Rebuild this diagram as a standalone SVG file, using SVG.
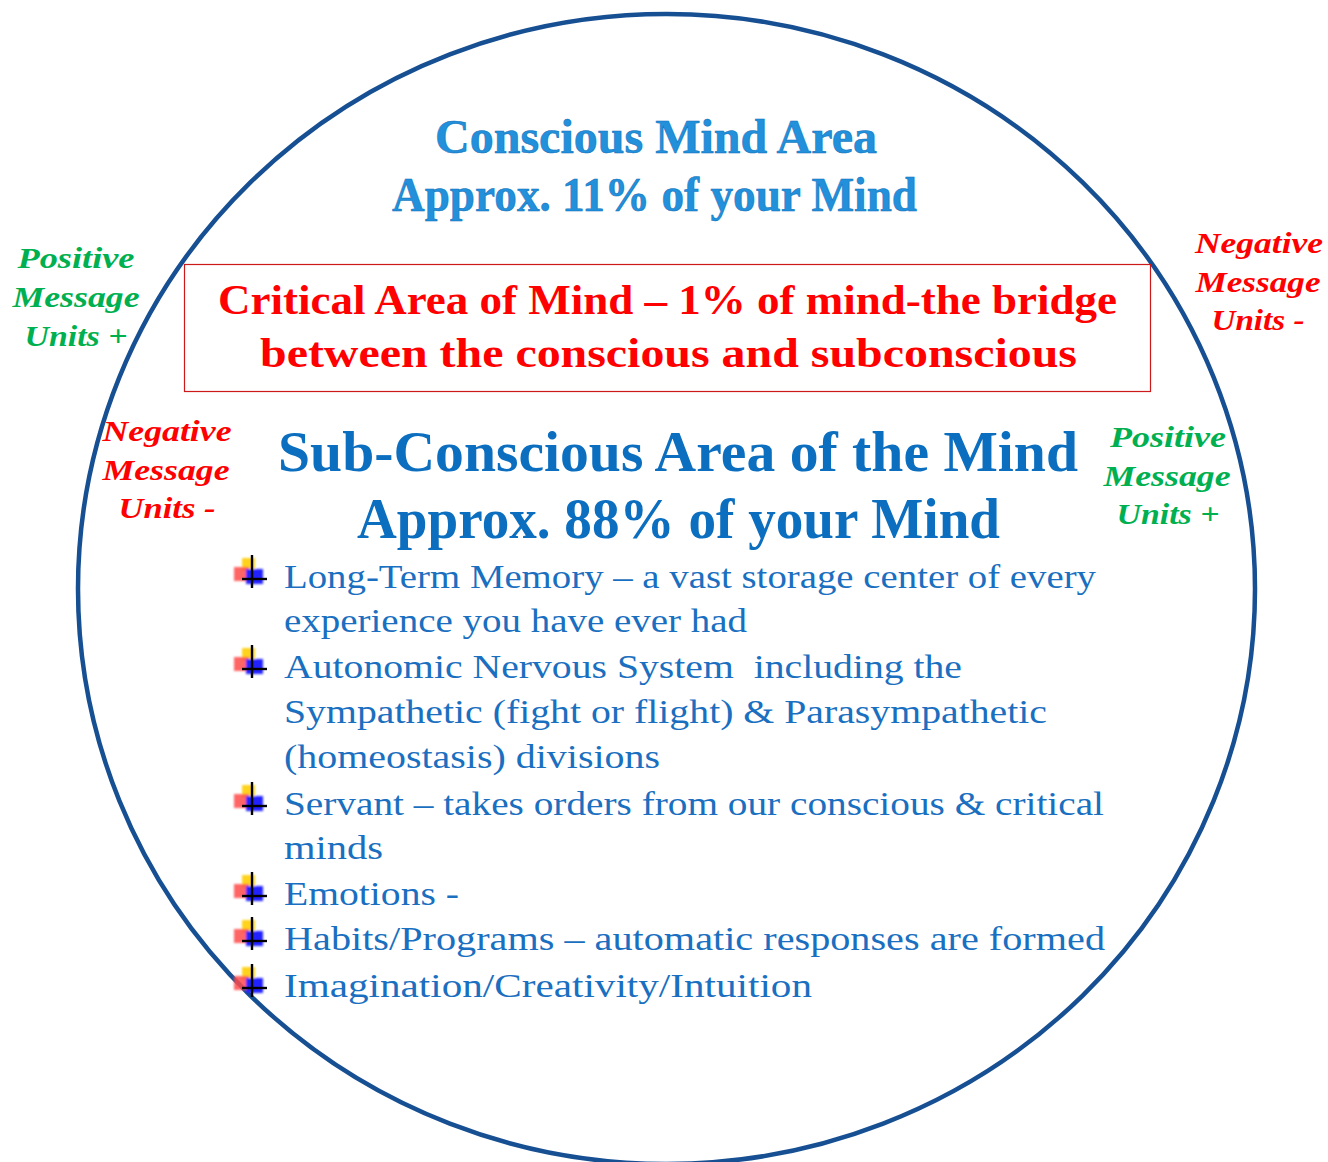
<svg xmlns="http://www.w3.org/2000/svg" width="1328" height="1162" viewBox="0 0 1328 1162">
  <defs>
    <style>
      .serif { font-family: "Liberation Serif", "DejaVu Serif", serif; }
      .title { fill: #2290da; font-size: 48px; font-weight: bold; stroke: #0f6fb8; stroke-width: 0.5px; }
      .crit { fill: #ff0000; font-size: 43px; font-weight: bold; }
      .sub { fill: #0b6ebf; font-size: 56px; font-weight: bold; }
      .item { fill: #1a6fc0; font-size: 34px; white-space: pre; }
      .side { font-size: 30px; font-weight: bold; font-style: italic; text-anchor: middle; }
      .pos { fill: #00b050; }
      .neg { fill: #ff0000; }
    </style>
    <filter id="soft" x="-50%" y="-50%" width="200%" height="200%">
      <feGaussianBlur stdDeviation="1.3"/>
    </filter>
    <!-- square-and-cross bullet, origin at its top-left -->
    <g id="bullet">
      <g filter="url(#soft)">
        <rect x="8" y="3" width="13" height="13" fill="#ffd21f"/>
        <rect x="0" y="12" width="15" height="14" fill="#ff4a4a" opacity="0.85"/>
        <rect x="12" y="14" width="17" height="15" fill="#2424ff"/>
      </g>
      <line x1="18" y1="0" x2="18" y2="33" stroke="#000" stroke-width="2.4"/>
      <line x1="8" y1="24" x2="33" y2="24" stroke="#000" stroke-width="2.4"/>
    </g>
  </defs>

  <rect width="1328" height="1162" fill="#ffffff"/>

  <!-- outer mind circle -->
  <g id="mind-circle">
    <ellipse cx="666.5" cy="589" rx="588.5" ry="575" fill="none" stroke="#174f93" stroke-width="4.5"/>
  </g>

  <!-- conscious area heading -->
  <g id="conscious" class="serif">
    <text class="title" x="435" y="153" textLength="442" lengthAdjust="spacingAndGlyphs">Conscious Mind Area</text>
    <text class="title" x="392" y="211" textLength="525" lengthAdjust="spacingAndGlyphs">Approx. 11% of your Mind</text>
  </g>

  <!-- critical area box -->
  <g id="critical" class="serif">
    <rect x="184.5" y="264.5" width="966" height="127" fill="#ffffff" stroke="#cc1a1a" stroke-width="1.2"/>
    <text class="crit" x="218" y="314" textLength="899" lengthAdjust="spacingAndGlyphs">Critical Area of Mind – 1% of mind-the bridge</text>
    <text class="crit" x="260" y="367" textLength="817" lengthAdjust="spacingAndGlyphs">between the conscious and subconscious</text>
  </g>

  <!-- message unit labels -->
  <g id="positive-left" class="serif side pos">
    <text x="76" y="268" textLength="117" lengthAdjust="spacingAndGlyphs">Positive</text>
    <text x="76" y="307" textLength="127" lengthAdjust="spacingAndGlyphs">Message</text>
    <text x="76" y="346" textLength="103" lengthAdjust="spacingAndGlyphs">Units +</text>
  </g>
  <g id="negative-right" class="serif side neg">
    <text x="1259" y="253" textLength="128" lengthAdjust="spacingAndGlyphs">Negative</text>
    <text x="1258" y="292" textLength="125" lengthAdjust="spacingAndGlyphs">Message</text>
    <text x="1258" y="330" textLength="93" lengthAdjust="spacingAndGlyphs">Units -</text>
  </g>
  <g id="negative-left" class="serif side neg">
    <text x="167" y="441" textLength="129" lengthAdjust="spacingAndGlyphs">Negative</text>
    <text x="166" y="480" textLength="127" lengthAdjust="spacingAndGlyphs">Message</text>
    <text x="167" y="518" textLength="97" lengthAdjust="spacingAndGlyphs">Units -</text>
  </g>
  <g id="positive-right" class="serif side pos">
    <text x="1168" y="447" textLength="116" lengthAdjust="spacingAndGlyphs">Positive</text>
    <text x="1167" y="486" textLength="127" lengthAdjust="spacingAndGlyphs">Message</text>
    <text x="1168" y="524" textLength="103" lengthAdjust="spacingAndGlyphs">Units +</text>
  </g>

  <!-- subconscious area heading -->
  <g id="subconscious" class="serif">
    <text class="sub" x="278" y="471" textLength="800" lengthAdjust="spacingAndGlyphs">Sub-Conscious Area of the Mind</text>
    <text class="sub" x="357" y="538" textLength="643" lengthAdjust="spacingAndGlyphs">Approx. 88% of your Mind</text>
  </g>

  <!-- subconscious functions list -->
  <g id="functions" class="serif">
    <use href="#bullet" x="234" y="555"/>
    <use href="#bullet" x="234" y="645"/>
    <use href="#bullet" x="234" y="782"/>
    <use href="#bullet" x="234" y="872"/>
    <use href="#bullet" x="234" y="917"/>
    <use href="#bullet" x="234" y="964"/>
    <text class="item" x="284" y="588" textLength="812" lengthAdjust="spacingAndGlyphs">Long-Term Memory – a vast storage center of every</text>
    <text class="item" x="284" y="632" textLength="463" lengthAdjust="spacingAndGlyphs">experience you have ever had</text>
    <text class="item" x="284" y="678" textLength="678" lengthAdjust="spacingAndGlyphs">Autonomic Nervous System  including the</text>
    <text class="item" x="284" y="723" textLength="763" lengthAdjust="spacingAndGlyphs">Sympathetic (fight or flight) &amp; Parasympathetic</text>
    <text class="item" x="284" y="768" textLength="376" lengthAdjust="spacingAndGlyphs">(homeostasis) divisions</text>
    <text class="item" x="284" y="815" textLength="820" lengthAdjust="spacingAndGlyphs">Servant – takes orders from our conscious &amp; critical</text>
    <text class="item" x="284" y="859" textLength="99" lengthAdjust="spacingAndGlyphs">minds</text>
    <text class="item" x="284" y="905" textLength="175" lengthAdjust="spacingAndGlyphs">Emotions -</text>
    <text class="item" x="284" y="950" textLength="821" lengthAdjust="spacingAndGlyphs">Habits/Programs – automatic responses are formed</text>
    <text class="item" x="284" y="997" textLength="528" lengthAdjust="spacingAndGlyphs">Imagination/Creativity/Intuition</text>
  </g>
</svg>
